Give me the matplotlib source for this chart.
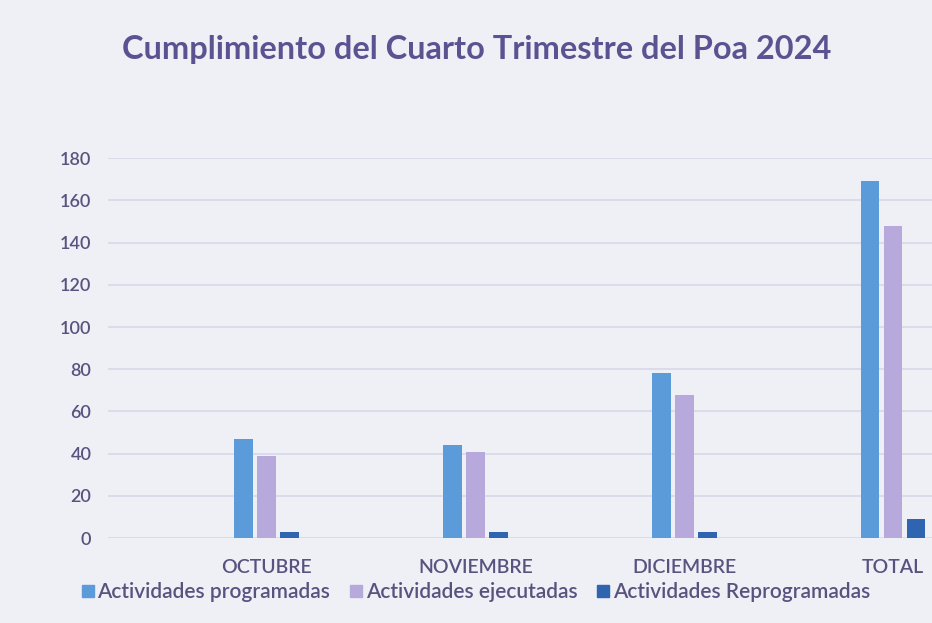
import matplotlib
matplotlib.use("Agg")
import matplotlib.pyplot as plt
import numpy as np
from matplotlib.lines import Line2D

categories = ["OCTUBRE", "NOVIEMBRE", "DICIEMBRE", "TOTAL"]
programadas = [47, 44, 78, 169]
ejecutadas = [39, 41, 68, 148]
reprogramadas = [3, 3, 3, 9]
series_names = ["Actividades programadas", "Actividades ejecutadas", "Actividades Reprogramadas"]
yticks = [0, 20, 40, 60, 80, 100, 120, 140, 160, 180]

colors = ["#5b9bd9", "#b7a9dc", "#2f65b0"]
bg = "#efeff6"
txt = "#58527f"

plt.rcParams['font.family'] = ['Lato', 'DejaVu Sans']

fig = plt.figure(figsize=(9.32, 6.23), dpi=100, facecolor=bg)
ax = fig.add_axes([0.116, 0.1364, 0.9, 0.6096], facecolor=bg)

x = np.arange(len(categories))
w = 0.090
step = 0.110
for i, (vals, c) in enumerate(zip([programadas, ejecutadas, reprogramadas], colors)):
    ax.bar(x + (i - 1) * step, vals, width=w, color=c, zorder=3)

ax.set_ylim(0, 180)
ax.set_xlim(-0.759, 3.258)
ax.set_yticks(yticks)
ax.set_xticks(x)
ax.set_xticklabels(categories)
ax.grid(axis='y', color="#d9d7ea", linewidth=1.2, zorder=0)
for s in ax.spines.values():
    s.set_visible(False)
ax.tick_params(axis='both', length=0, labelcolor=txt)
ax.tick_params(axis='y', labelsize=13, pad=12)
ax.tick_params(axis='x', labelsize=14, pad=15)
for lab in ax.get_xticklabels() + ax.get_yticklabels():
    lab.set_fontweight('semibold')

fig.text(0.511, 0.92, "Cumplimiento del Cuarto Trimestre del Poa 2024",
         ha='center', va='center', fontsize=23.4, fontweight='bold', color="#5a5391")

handles = [Line2D([0], [0], marker='s', linestyle='none', markersize=9,
                  markerfacecolor=c, markeredgecolor=c) for c in colors]
leg = fig.legend(handles, series_names, loc='center', bbox_to_anchor=(0.51, 0.05), ncol=3,
                 frameon=False, fontsize=15, labelcolor=txt, handletextpad=0.1,
                 columnspacing=0.9, handlelength=0.7)
for t in leg.get_texts():
    t.set_fontweight('semibold')

fig.savefig("out.png", dpi=100, facecolor=bg)
